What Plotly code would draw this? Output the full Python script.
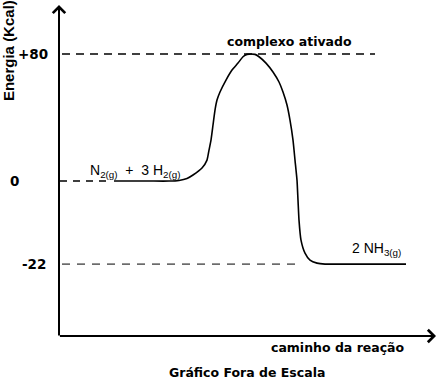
import plotly.graph_objects as go

# ---- data (drawing units: x = reaction path, y = energy display position; chart is not to scale) ----
level_labels = ["+80", "0", "-22"]
level_pos = [80, 0, -52.3]          # display positions of the energy levels

# reaction-path curve
path_x = [55, 90, 110, 120, 128, 134, 143, 148, 150, 152, 154, 156, 158, 161, 167, 173, 179, 184, 188, 192,
          196, 200, 207, 214, 220, 224, 228, 231, 234, 236, 238, 239, 240, 242, 246, 251, 258, 266, 300, 347]
path_y = [0, 0, 0, 0.4, 1.6, 3.8, 8.2, 13.2, 19.5, 25.8, 35.3, 44.7, 51.0, 56.1, 63.6, 69.9, 74.3, 78.3, 79.8, 80,
          79.8, 78.3, 74.3, 68.7, 62.4, 56.1, 47.9, 38.4, 25.8, 13.2, 0.6, -12.0, -24.6, -37.2, -45.4,
          -49.8, -51.7, -52.3, -52.3, -52.3]

# dashed guide lines (x extents)
guide_top_x = [3, 316]
guide_zero_x = [1, 51]
guide_low_x = [3, 241]

X_MIN, X_MAX = 0, 378
Y_MIN, Y_MAX = -97.6, 110.9

BOLD = "DejaVu Sans"
fig = go.Figure()

fig.add_trace(go.Scatter(x=guide_top_x, y=[level_pos[0]] * 2, mode="lines",
                         line=dict(color="black", width=1.5, dash="8px,6px"), hoverinfo="skip"))
fig.add_trace(go.Scatter(x=guide_zero_x, y=[level_pos[1]] * 2, mode="lines",
                         line=dict(color="black", width=1.5, dash="7px,6px"), hoverinfo="skip"))
fig.add_trace(go.Scatter(x=guide_low_x, y=[level_pos[2]] * 2, mode="lines",
                         line=dict(color="black", width=1, dash="8px,7px"), hoverinfo="skip"))
fig.add_trace(go.Scatter(x=path_x, y=path_y, mode="lines",
                         line=dict(color="black", width=1.6, shape="spline", smoothing=0.5),
                         hoverinfo="skip"))

ann = []
# axes with arrows
ann.append(dict(x=0, y=Y_MAX, ax=0, ay=Y_MIN - 0.6, xref="x", yref="y", axref="x", ayref="y",
                showarrow=True, arrowhead=4, arrowsize=1.2, arrowwidth=2, arrowcolor="black", text=""))
ann.append(dict(x=X_MAX - 1, y=Y_MIN, ax=-0.6, ay=Y_MIN, xref="x", yref="y", axref="x", ayref="y",
                showarrow=True, arrowhead=4, arrowsize=1.2, arrowwidth=2, arrowcolor="black", text=""))

# tick labels
tick_x_paper = [-0.068, -0.119, -0.066]
for lbl, pos, xp in zip(level_labels, level_pos, tick_x_paper):
    ann.append(dict(x=xp, y=pos, xref="paper", yref="y", text="<b>" + lbl + "</b>", showarrow=False,
                    font=dict(family=BOLD, size=13.5, color="black"), xanchor="center", yanchor="middle"))

ann.append(dict(x=-0.135, y=82.5, xref="paper", yref="y", text="<b>Energia (Kcal)</b>", textangle=-90,
                showarrow=False, font=dict(family="Liberation Sans", size=15, color="black"),
                xanchor="center", yanchor="middle"))
ann.append(dict(x=230, y=87.6, xref="x", yref="y", text="<b>complexo ativado</b>", showarrow=False,
                font=dict(family=BOLD, size=12.5, color="black"), xanchor="center", yanchor="middle"))
ann.append(dict(x=76, y=6.3, xref="x", yref="y", text="N<sub>2(g)</sub>  +  3 H<sub>2(g)</sub>",
                showarrow=False, font=dict(family="Liberation Sans", size=14, color="black"),
                xanchor="center", yanchor="middle"))
ann.append(dict(x=317, y=-42.8, xref="x", yref="y", text="2 NH<sub>3(g)</sub>",
                showarrow=False, font=dict(family="Liberation Sans", size=14, color="black"),
                xanchor="center", yanchor="middle"))
ann.append(dict(x=279, y=-0.036, xref="x", yref="paper", text="<b>caminho da reação</b>", showarrow=False,
                font=dict(family=BOLD, size=12.5, color="black"), xanchor="center", yanchor="middle"))
ann.append(dict(x=188, y=-0.109, xref="x", yref="paper", text="<b>Gráfico Fora de Escala</b>", showarrow=False,
                font=dict(family=BOLD, size=12.5, color="black"), xanchor="center", yanchor="middle"))

fig.update_layout(
    width=440, height=379,
    margin=dict(l=59, r=3, t=5, b=43),
    paper_bgcolor="white", plot_bgcolor="white",
    showlegend=False,
    xaxis=dict(range=[X_MIN, X_MAX], visible=False, fixedrange=True),
    yaxis=dict(range=[Y_MIN, Y_MAX], visible=False, fixedrange=True),
    annotations=ann,
)

fig.write_html("out.html", config={"displayModeBar": False},
               post_script="document.body.style.margin='0';document.body.style.overflow='hidden';")
